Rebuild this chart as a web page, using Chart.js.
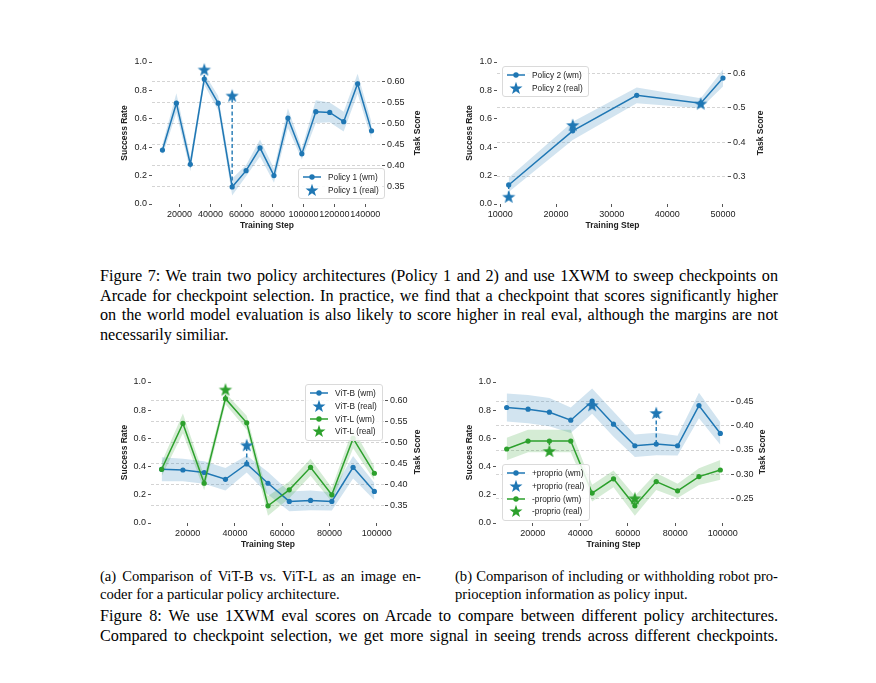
<!DOCTYPE html>
<html>
<head>
<meta charset="utf-8">
<title>1XWM checkpoint evaluation</title>
<script src="https://cdn.jsdelivr.net/npm/chart.js@4.4.1/dist/chart.umd.min.js"></script>
<style>
  body { margin: 0; width: 876px; height: 683px; background: #fff; position: relative; overflow: hidden;
         font-family: "Liberation Sans", Arial, sans-serif; color: #222; }
  canvas { position: absolute; }
  .legend { position: absolute; box-sizing: border-box; padding: 2px 5px 2px 3px; background: rgba(255,255,255,0.85);
            border: 1px solid #dadada; border-radius: 3px; font-size: 8.3px; }
  .legend .row { display: flex; align-items: center; height: 12.7px; white-space: nowrap; }
  .legend svg { width: 20px; height: 14px; margin-right: 6px; flex: none; overflow: visible; }
  .rtitle { position: absolute; font-weight: bold; font-size: 8.5px; white-space: nowrap;
            transform: translate(-50%, -50%) rotate(-90deg); }
  .cap { position: absolute; font-family: "Liberation Serif", "Times New Roman", serif; color: #000;
         white-space: nowrap; line-height: 18px; height: 18px; }
  .just { text-align: justify; text-align-last: justify; }
</style>
</head>
<body>
<canvas id="fig7a"></canvas>
<canvas id="fig7b"></canvas>
<canvas id="fig8a"></canvas>
<canvas id="fig8b"></canvas>

<div class="cap just" data-g="f7" style="left:100px;top:267px;width:678px">Figure 7: We train two policy architectures (Policy 1 and 2) and use 1XWM to sweep checkpoints on</div>
<div class="cap just" data-g="f7" style="left:100px;top:287px;width:678px">Arcade for checkpoint selection. In practice, we find that a checkpoint that scores significantly higher</div>
<div class="cap just" data-g="f7" style="left:100px;top:306px;width:678px">on the world model evaluation is also likely to score higher in real eval, although the margins are not</div>
<div class="cap" data-g="f7" style="left:100px;top:326px">necessarily similiar.</div>

<div class="cap just" data-g="sub" style="left:100px;top:567px;width:321px">(a) Comparison of ViT-B vs. ViT-L as an image en-</div>
<div class="cap" data-g="sub" style="left:100px;top:585px">coder for a particular policy architecture.</div>
<div class="cap just" data-g="sub" style="left:455px;top:567px;width:323px">(b) Comparison of including or withholding robot pro-</div>
<div class="cap" data-g="sub" style="left:455px;top:585px">prioception information as policy input.</div>

<div class="cap just" data-g="f8" style="left:100px;top:607px;width:678px">Figure 8: We use 1XWM eval scores on Arcade to compare between different policy architectures.</div>
<div class="cap just" data-g="f8" style="left:100px;top:627px;width:678px">Compared to checkpoint selection, we get more signal in seeing trends across different checkpoints.</div>

<script>
const blue = "#1f77b4";
const green = "#2ca02c";

// Figure 7 left: Policy 1
const p1Steps = [9000, 18000, 27000, 36000, 45000, 54000, 63000, 72000, 81000, 90000, 99000, 108000, 117000, 126000, 135000, 144000];
const p1Wm = [0.38, 0.71, 0.28, 0.88, 0.71, 0.12, 0.235, 0.395, 0.20, 0.605, 0.353, 0.65, 0.645, 0.58, 0.847, 0.515];
const p1Spread = [0.04, 0.07, 0.05, 0.04, 0.05, 0.06, 0.04, 0.06, 0.05, 0.07, 0.04, 0.08, 0.07, 0.07, 0.07, 0.06];
const p1RealSteps = [36000, 54000];
const p1RealScore = [0.629, 0.567];
const p1XTicks = [20000, 40000, 60000, 80000, 100000, 120000, 140000];
const p1ScoreTicks = [0.35, 0.40, 0.45, 0.50, 0.55, 0.60];

// Figure 7 right: Policy 2
const p2Steps = [11500, 23000, 34500, 46000, 50000];
const p2Wm = [0.134, 0.515, 0.765, 0.71, 0.887];
const p2Spread = [0.05, 0.065, 0.055, 0.035, 0.06];
const p2RealSteps = [11500, 23000, 46000];
const p2RealScore = [0.243, 0.450, 0.512];
const p2XTicks = [10000, 20000, 30000, 40000, 50000];
const p2ScoreTicks = [0.3, 0.4, 0.5, 0.6];

// Figure 8a: ViT-B vs ViT-L
const vitSteps = [9000, 18000, 27000, 36000, 45000, 54000, 63000, 72000, 81000, 90000, 99000];
const vitBWm = [0.381, 0.376, 0.358, 0.31, 0.419, 0.282, 0.153, 0.16, 0.153, 0.395, 0.224];
const vitBSpread = [0.085, 0.08, 0.08, 0.08, 0.06, 0.08, 0.07, 0.07, 0.065, 0.08, 0.06];
const vitBRealSteps = [45000];
const vitBRealScore = [0.4945];
const vitLWm = [0.381, 0.706, 0.282, 0.882, 0.711, 0.122, 0.235, 0.395, 0.20, 0.60, 0.353];
const vitLSpread = [0.05, 0.07, 0.05, 0.04, 0.05, 0.07, 0.06, 0.06, 0.05, 0.07, 0.05];
const vitLRealSteps = [36000];
const vitLRealScore = [0.627];
const vitScoreTicks = [0.35, 0.40, 0.45, 0.50, 0.55, 0.60];

// Figure 8b: with / without proprioception
const proSteps = [9000, 18000, 27000, 36000, 45000, 54000, 63000, 72000, 81000, 90000, 99000];
const plusWm = [0.819, 0.807, 0.786, 0.729, 0.864, 0.701, 0.548, 0.56, 0.548, 0.833, 0.635];
const plusSpread = [0.1, 0.1, 0.1, 0.09, 0.09, 0.09, 0.08, 0.08, 0.07, 0.09, 0.08];
const plusRealSteps = [45000, 72000];
const plusRealScore = [0.442, 0.426];
const minusWm = [0.525, 0.581, 0.581, 0.581, 0.212, 0.313, 0.122, 0.294, 0.228, 0.329, 0.376];
const minusSpread = [0.08, 0.08, 0.08, 0.08, 0.06, 0.06, 0.07, 0.06, 0.05, 0.06, 0.07];
const minusRealSteps = [27000, 63000];
const minusRealScore = [0.348, 0.251];
const proScoreTicks = [0.25, 0.30, 0.35, 0.40, 0.45];

const stepTicks = [20000, 40000, 60000, 80000, 100000];
const rateTicks = [0, 0.2, 0.4, 0.6, 0.8, 1.0];

Chart.defaults.font.family = "'Liberation Sans', Arial, sans-serif";
Chart.defaults.font.size = 9;
Chart.defaults.color = "#222";

function starPoints(cx, cy, r) {
    const pts = [];
    for (let i = 0; i < 10; i++) {
        const rad = i % 2 ? r * 0.4 : r;
        const a = -Math.PI / 2 + i * Math.PI / 5;
        pts.push([cx + rad * Math.cos(a), cy + rad * Math.sin(a)]);
    }
    return pts;
}

function starImage(color, r) {
    const c = document.createElement("canvas");
    const s = Math.ceil(r * 2 + 2);
    c.width = s;
    c.height = s;
    const g = c.getContext("2d");
    g.fillStyle = color;
    g.beginPath();
    starPoints(s / 2, s / 2 + 0.6, r).forEach(p => g.lineTo(p[0], p[1]));
    g.closePath();
    g.fill();
    return c;
}

function hexAlpha(hex, a) {
    const n = parseInt(hex.slice(1), 16);
    return `rgba(${n >> 16}, ${(n >> 8) & 255}, ${n & 255}, ${a})`;
}

function makePanel(id, geo, spec) {
    const canvas = document.getElementById(id);
    const left = Math.round(geo.titleX - 5);
    const top = geo.T - 10;
    const leftW = geo.L - left;
    const rightW = 40;
    const bottomH = 27;
    canvas.style.left = left + "px";
    canvas.style.top = top + "px";
    canvas.width = geo.R + rightW - left;
    canvas.height = geo.B + bottomH - top;

    const datasets = [];
    const links = [];
    spec.series.forEach((s, k) => {
        const star = starImage(s.color, 7);
        datasets.push({
            label: s.label + " (real)",
            data: s.realSteps.map((x, i) => ({ x: x, y: s.realScore[i] })),
            yAxisID: "y1",
            showLine: false,
            pointStyle: star,
            pointRadius: 7,
            clip: false,
            order: 10 - k
        });
        datasets.push({
            label: s.label + " (wm)",
            data: s.steps.map((x, i) => ({ x: x, y: s.wm[i] })),
            yAxisID: "y",
            borderColor: s.color,
            backgroundColor: s.color,
            borderWidth: 1.5,
            pointRadius: 2.6,
            pointBorderWidth: 0,
            tension: 0,
            order: 20 - k
        });
        datasets.push({
            label: s.label + " band low",
            data: s.steps.map((x, i) => ({ x: x, y: s.wm[i] - s.spread[i] })),
            yAxisID: "y",
            borderWidth: 0,
            pointRadius: 0,
            fill: false,
            order: 30 - k
        });
        datasets.push({
            label: s.label + " band high",
            data: s.steps.map((x, i) => ({ x: x, y: s.wm[i] + s.spread[i] })),
            yAxisID: "y",
            borderWidth: 0,
            pointRadius: 0,
            backgroundColor: hexAlpha(s.color, 0.2),
            fill: "-1",
            order: 30 - k
        });
        s.realSteps.forEach((x, i) => {
            links.push({ x: x, wm: s.wm[s.steps.indexOf(x)], real: s.realScore[i], color: s.color });
        });
    });

    // dashed line from each world-model point up/down to its real-eval star
    const connectors = {
        id: "connectors",
        beforeDatasetsDraw(chart) {
            const { ctx, scales } = chart;
            ctx.save();
            ctx.setLineDash([4, 2.5]);
            ctx.lineWidth = 1.4;
            links.forEach(l => {
                const px = scales.x.getPixelForValue(l.x);
                ctx.strokeStyle = l.color;
                ctx.beginPath();
                ctx.moveTo(px, scales.y.getPixelForValue(l.wm));
                ctx.lineTo(px, scales.y1.getPixelForValue(l.real));
                ctx.stroke();
            });
            ctx.restore();
        }
    };

    const tickGrid = { display: true, drawOnChartArea: false, drawTicks: true, tickLength: 3, tickColor: "#555", tickWidth: 1 };
    const titleFont = { size: 8.5, weight: "bold" };

    return new Chart(canvas, {
        type: "line",
        data: { datasets: datasets },
        plugins: [connectors],
        options: {
            responsive: false,
            animation: false,
            layout: { padding: { top: 10, left: 0, right: 0, bottom: 0 } },
            plugins: { legend: { display: false }, tooltip: { enabled: false } },
            scales: {
                x: {
                    type: "linear",
                    min: spec.xMin,
                    max: spec.xMax,
                    afterBuildTicks: sc => { sc.ticks = spec.xTicks.map(v => ({ value: v })); },
                    afterFit: sc => { sc.height = bottomH; },
                    grid: tickGrid,
                    border: { display: false },
                    ticks: { padding: 2, autoSkip: false, maxRotation: 0, callback: v => String(v) },
                    title: { display: true, text: "Training Step", font: titleFont, padding: 0 }
                },
                y: {
                    position: "left",
                    min: 0,
                    max: 1,
                    afterBuildTicks: sc => { sc.ticks = rateTicks.map(v => ({ value: v })); },
                    afterFit: sc => { sc.width = leftW; },
                    grid: tickGrid,
                    border: { display: false },
                    ticks: { padding: 2, callback: v => v.toFixed(1) },
                    title: { display: true, text: "Success Rate", font: titleFont, padding: 0 }
                },
                y1: {
                    position: "right",
                    min: spec.scoreMin,
                    max: spec.scoreMax,
                    afterBuildTicks: sc => { sc.ticks = spec.scoreTicks.map(v => ({ value: v })); },
                    afterFit: sc => { sc.width = rightW; },
                    grid: { display: true, drawOnChartArea: true, drawTicks: true, color: "#c9c9c9", lineWidth: 0.8,
                            tickLength: 3, tickColor: "#555", tickWidth: 1 },
                    border: { display: false, dash: [3, 2] },
                    ticks: { padding: 2, callback: v => v.toFixed(spec.scoreDigits) }
                }
            }
        }
    });
}

function addLegend(x, y, items) {
    const box = document.createElement("div");
    box.className = "legend";
    box.style.left = x + "px";
    box.style.top = y + "px";
    items.forEach(it => {
        const row = document.createElement("div");
        row.className = "row";
        let icon;
        if (it.kind === "wm") {
            icon = `<svg viewBox="0 0 20 14"><line x1="1" y1="7" x2="19" y2="7" stroke="${it.color}" stroke-width="1.5"/>` +
                   `<circle cx="10" cy="7" r="2.7" fill="${it.color}"/></svg>`;
        } else {
            const pts = starPoints(10, 7.6, 6.8).map(p => p[0].toFixed(2) + "," + p[1].toFixed(2)).join(" ");
            icon = `<svg viewBox="0 0 20 14"><polygon points="${pts}" fill="${it.color}"/></svg>`;
        }
        row.innerHTML = icon + "<span>" + it.label + "</span>";
        box.appendChild(row);
    });
    document.body.appendChild(box);
}

function addRightTitle(x, y, text) {
    const d = document.createElement("div");
    d.className = "rtitle";
    d.style.left = x + "px";
    d.style.top = y + "px";
    d.textContent = text;
    document.body.appendChild(d);
}

// pick one font size per caption block so the justified lines fit their width
function fitCaptions(group, base) {
    const els = [...document.querySelectorAll(`.cap[data-g="${group}"]`)];
    let size = base;
    els.filter(e => e.classList.contains("just")).forEach(e => {
        const probe = document.createElement("span");
        probe.style.cssText = `position:absolute;visibility:hidden;white-space:nowrap;` +
            `font-family:"Liberation Serif","Times New Roman",serif;font-size:${base}px`;
        probe.textContent = e.textContent;
        document.body.appendChild(probe);
        const fit = base * e.clientWidth * 0.99 / probe.getBoundingClientRect().width;
        size = Math.min(size, fit);
        probe.remove();
    });
    els.forEach(e => { e.style.fontSize = size + "px"; });
}

makePanel("fig7a", { L: 152, R: 382, T: 62, B: 204, titleX: 125 }, {
    xMin: 2250, xMax: 150750, xTicks: p1XTicks,
    scoreMin: 0.309, scoreMax: 0.647, scoreTicks: p1ScoreTicks, scoreDigits: 2,
    series: [{ label: "Policy 1", color: blue, steps: p1Steps, wm: p1Wm, spread: p1Spread, realSteps: p1RealSteps, realScore: p1RealScore }]
});

makePanel("fig7b", { L: 497, R: 728, T: 62, B: 204, titleX: 470 }, {
    xMin: 9400, xMax: 50900, xTicks: p2XTicks,
    scoreMin: 0.222, scoreMax: 0.632, scoreTicks: p2ScoreTicks, scoreDigits: 1,
    series: [{ label: "Policy 2", color: blue, steps: p2Steps, wm: p2Wm, spread: p2Spread, realSteps: p2RealSteps, realScore: p2RealScore }]
});

makePanel("fig8a", { L: 151, R: 385, T: 382, B: 523, titleX: 125 }, {
    xMin: 4500, xMax: 103500, xTicks: stepTicks,
    scoreMin: 0.309, scoreMax: 0.645, scoreTicks: vitScoreTicks, scoreDigits: 2,
    series: [
        { label: "ViT-B", color: blue, steps: vitSteps, wm: vitBWm, spread: vitBSpread, realSteps: vitBRealSteps, realScore: vitBRealScore },
        { label: "ViT-L", color: green, steps: vitSteps, wm: vitLWm, spread: vitLSpread, realSteps: vitLRealSteps, realScore: vitLRealScore }
    ]
});

makePanel("fig8b", { L: 496, R: 731, T: 382, B: 523, titleX: 470 }, {
    xMin: 4500, xMax: 103500, xTicks: stepTicks,
    scoreMin: 0.2003, scoreMax: 0.4895, scoreTicks: proScoreTicks, scoreDigits: 2,
    series: [
        { label: "+proprio", color: blue, steps: proSteps, wm: plusWm, spread: plusSpread, realSteps: plusRealSteps, realScore: plusRealScore },
        { label: "-proprio", color: green, steps: proSteps, wm: minusWm, spread: minusSpread, realSteps: minusRealSteps, realScore: minusRealScore }
    ]
});

addRightTitle(417, 133, "Task Score");
addRightTitle(760, 133, "Task Score");
addRightTitle(417, 452, "Task Score");
addRightTitle(762, 452, "Task Score");

addLegend(298, 168, [
    { kind: "wm", color: blue, label: "Policy 1 (wm)" },
    { kind: "real", color: blue, label: "Policy 1 (real)" }
]);
addLegend(502, 66, [
    { kind: "wm", color: blue, label: "Policy 2 (wm)" },
    { kind: "real", color: blue, label: "Policy 2 (real)" }
]);
addLegend(305, 384, [
    { kind: "wm", color: blue, label: "ViT-B (wm)" },
    { kind: "real", color: blue, label: "ViT-B (real)" },
    { kind: "wm", color: green, label: "ViT-L (wm)" },
    { kind: "real", color: green, label: "ViT-L (real)" }
]);
addLegend(502, 464, [
    { kind: "wm", color: blue, label: "+proprio (wm)" },
    { kind: "real", color: blue, label: "+proprio (real)" },
    { kind: "wm", color: green, label: "-proprio (wm)" },
    { kind: "real", color: green, label: "-proprio (real)" }
]);

fitCaptions("f7", 16.2);
fitCaptions("sub", 14.7);
fitCaptions("f8", 16.2);
</script>
</body>
</html>
